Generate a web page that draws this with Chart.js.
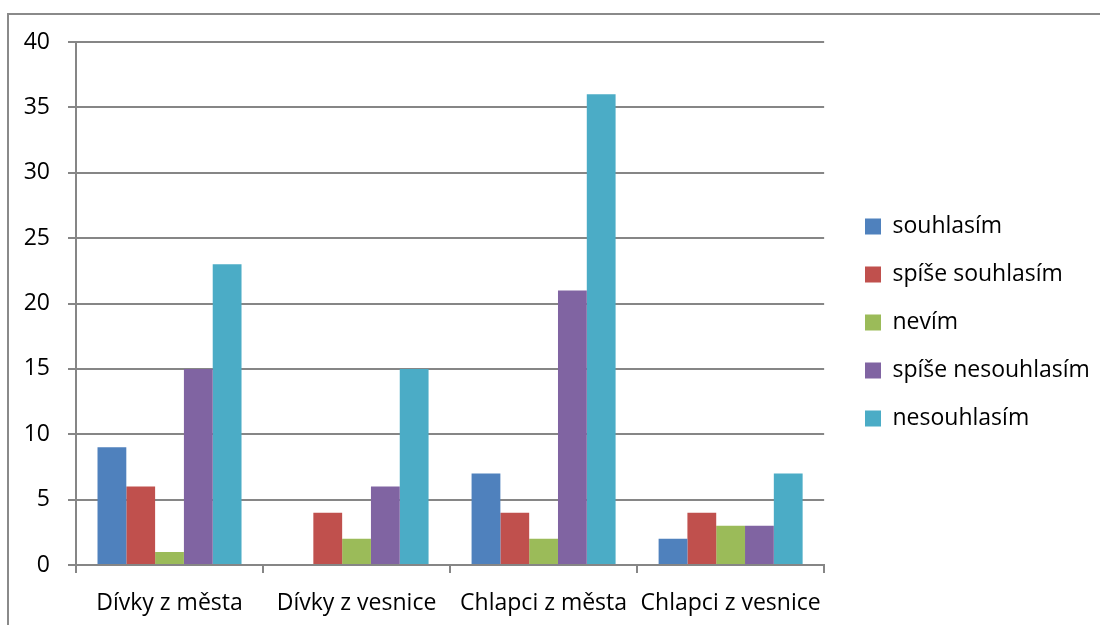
<!DOCTYPE html>
<html>
<head>
<meta charset="utf-8">
<script src="https://cdn.jsdelivr.net/npm/chart.js@4"></script>
<style>
  body { margin: 0; background: #fff; }
  #wrap { position: relative; width: 1100px; height: 625px; overflow: hidden; }
  #frame { position: absolute; left: 7px; top: 13px; width: 1200px; height: 800px; border: 2px solid #8a8a8a; box-sizing: border-box; }
  #c { position: absolute; left: 0; top: 0; }
</style>
</head>
<body>
<div id="wrap">
  <div id="frame"></div>
  <canvas id="c" width="1100" height="625"></canvas>
</div>
<script>
// kategorie a data
const categories = ['Dívky z města', 'Dívky z vesnice', 'Chlapci z města', 'Chlapci z vesnice'];
const souhlasim = [9, 0, 7, 2];
const spiseSouhlasim = [6, 4, 4, 4];
const nevim = [1, 2, 2, 3];
const spiseNesouhlasim = [15, 6, 21, 3];
const nesouhlasim = [23, 15, 36, 7];
const yTicks = [0, 5, 10, 15, 20, 25, 30, 35, 40];

const gridColor = '#868686';
const tickFont = { family: 'Open Sans', size: 23 };
const legendFont = { family: 'Open Sans', size: 23 };

// posun legendy (x pozice ctverecku, svisly posun)
const legendShift = {
  id: 'legendShift',
  afterLayout(chart) {
    const lg = chart.legend;
    const dx = 865 - (lg.left + lg.options.labels.padding);
    const dy = -7;
    lg.left += dx; lg.right += dx;
    lg.top += dy; lg.bottom += dy;
  }
};

const ctx = document.getElementById('c').getContext('2d');
new Chart(ctx, {
  type: 'bar',
  data: {
    labels: categories,
    datasets: [
      { label: 'souhlasím', data: souhlasim, backgroundColor: '#4F81BD' },
      { label: 'spíše souhlasím', data: spiseSouhlasim, backgroundColor: '#C0504D' },
      { label: 'nevím', data: nevim, backgroundColor: '#9BBB59' },
      { label: 'spíše nesouhlasím', data: spiseNesouhlasim, backgroundColor: '#8064A2' },
      { label: 'nesouhlasím', data: nesouhlasim, backgroundColor: '#4BACC6' }
    ]
  },
  options: {
    responsive: false,
    animation: false,
    categoryPercentage: 0.77,
    barPercentage: 1.0,
    layout: { padding: { left: 20, top: 42, right: 16, bottom: 8 } },
    plugins: {
      tooltip: { enabled: false },
      legend: {
        position: 'right',
        labels: {
          font: legendFont,
          color: '#000',
          boxWidth: 16,
          boxHeight: 16,
          padding: 25
        }
      }
    },
    scales: {
      x: {
        grid: { drawOnChartArea: false, drawTicks: true, tickLength: 8, color: gridColor, lineWidth: 2, offset: true },
        border: { color: gridColor, width: 2 },
        ticks: { font: tickFont, color: '#000', padding: 17 },
        afterFit: (axis) => { axis.height = 52; }
      },
      y: {
        min: 0,
        max: 40,
        afterBuildTicks: (axis) => { axis.ticks = yTicks.map(v => ({ value: v })); },
        grid: { color: gridColor, lineWidth: 2, tickLength: 8 },
        border: { color: gridColor, width: 2 },
        ticks: { font: tickFont, color: '#000', padding: 18 },
        afterFit: (axis) => { axis.width = 56; }
      }
    }
  },
  plugins: [legendShift]
});
</script>
</body>
</html>
